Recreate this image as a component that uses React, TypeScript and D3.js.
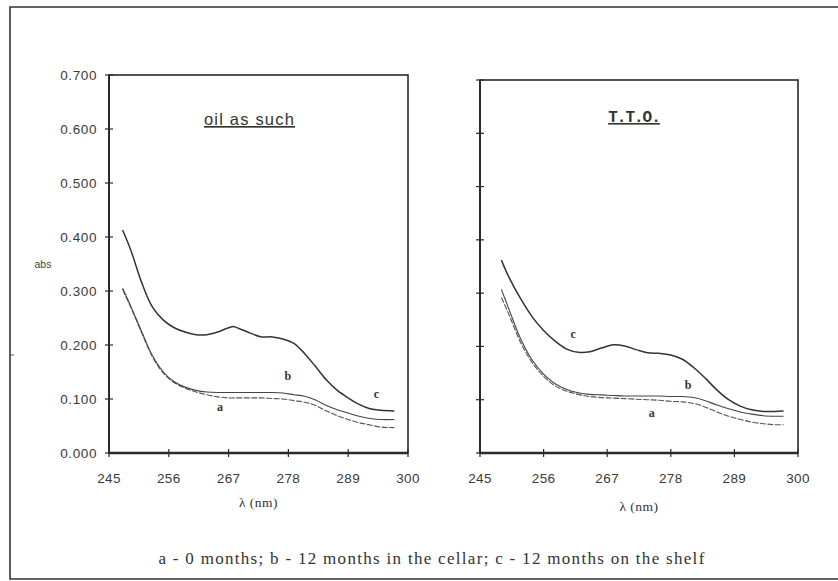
import React from "react";
import * as d3 from "d3";

// ---------- data ----------
const xTicks = [245, 256, 267, 278, 289, 300];
const yTicks = [0, 0.1, 0.2, 0.3, 0.4, 0.5, 0.6, 0.7];
const yTickLabels = ["0.000", "0.100", "0.200", "0.300", "0.400", "0.500", "0.600", "0.700"];

// oil as such
const lambdaOil = [247.5, 249, 251, 253, 255, 257, 259, 261, 263, 265, 267, 268, 269, 271, 273, 275, 277, 279, 281, 283, 285, 287, 289, 291, 293, 295, 297.5];
const oilC = [0.413, 0.376, 0.316, 0.270, 0.246, 0.232, 0.224, 0.219, 0.219, 0.224, 0.232, 0.234, 0.230, 0.222, 0.215, 0.215, 0.211, 0.203, 0.184, 0.160, 0.135, 0.116, 0.102, 0.090, 0.082, 0.079, 0.078];
const oilB = [0.305, 0.272, 0.225, 0.180, 0.150, 0.132, 0.122, 0.116, 0.113, 0.112, 0.112, 0.112, 0.112, 0.112, 0.112, 0.112, 0.111, 0.108, 0.105, 0.098, 0.088, 0.080, 0.074, 0.068, 0.064, 0.062, 0.062];
const oilA = [0.303, 0.270, 0.223, 0.178, 0.148, 0.130, 0.120, 0.113, 0.108, 0.104, 0.102, 0.102, 0.102, 0.102, 0.102, 0.101, 0.100, 0.097, 0.094, 0.088, 0.078, 0.069, 0.062, 0.056, 0.052, 0.048, 0.047];

// T.T.O.
const lambdaTto = [248.7, 250, 252, 254, 256, 258, 260, 262, 264, 266, 268, 270, 272, 274, 276, 278, 280, 282, 284, 286, 288, 290, 292, 294, 296, 297.5];
const ttoC = [0.362, 0.330, 0.290, 0.256, 0.230, 0.210, 0.195, 0.189, 0.190, 0.197, 0.203, 0.201, 0.194, 0.188, 0.187, 0.184, 0.176, 0.160, 0.140, 0.118, 0.100, 0.088, 0.081, 0.078, 0.078, 0.079];
const ttoB = [0.307, 0.270, 0.215, 0.175, 0.148, 0.130, 0.119, 0.113, 0.110, 0.109, 0.108, 0.107, 0.107, 0.107, 0.107, 0.106, 0.106, 0.104, 0.098, 0.090, 0.083, 0.077, 0.073, 0.070, 0.069, 0.069];
const ttoA = [0.292, 0.260, 0.208, 0.170, 0.144, 0.126, 0.116, 0.110, 0.106, 0.104, 0.103, 0.102, 0.101, 0.100, 0.099, 0.097, 0.096, 0.093, 0.086, 0.077, 0.069, 0.063, 0.058, 0.055, 0.053, 0.053];

// curve label annotations [letter, lambda, abs]
const oilLabels: [string, number, number][] = [["b", 277.9, 0.136], ["a", 265.4, 0.078], ["c", 294.2, 0.101]];
const ttoLabels: [string, number, number][] = [["c", 261.1, 0.215], ["b", 281.0, 0.121], ["a", 274.7, 0.068]];

const INK = "#2a2a2a";

type PanelProps = {
  left: number; right: number; top: number; bottom: number;
  title: string; titleFont: string; titleSize: number; titleSpacing: number; titleDy: number; titleDx: number;
  titleWeight: string;
  lambda: number[]; a: number[]; b: number[]; c: number[];
  labels: [string, number, number][];
  showYLabels: boolean; xLabelY: number;
};

function Panel(p: PanelProps) {
  const x = d3.scaleLinear().domain([245, 300]).range([p.left, p.right]);
  const y = d3.scaleLinear().domain([0, 0.7]).range([p.bottom, p.top]);
  const line = (vals: number[]) =>
    d3.line<number>()
      .x((_, i) => x(p.lambda[i]))
      .y((v) => y(v))
      .curve(d3.curveCatmullRom.alpha(0.5))(vals) || "";
  const cx = (p.left + p.right) / 2;
  return (
    <g>
      {/* frame */}
      <rect x={p.left} y={p.top} width={p.right - p.left} height={p.bottom - p.top}
        fill="none" stroke={INK} strokeWidth={1.6} />
      <line x1={p.left} x2={p.right} y1={p.bottom} y2={p.bottom} stroke={INK} strokeWidth={2.4} />
      <line x1={p.left} x2={p.left} y1={p.top} y2={p.bottom} stroke={INK} strokeWidth={2} />
      {/* y ticks */}
      {yTicks.map((t, i) => (
        <g key={"y" + i}>
          <line x1={p.left - 4} x2={p.left + 4} y1={y(t)} y2={y(t)} stroke={INK} strokeWidth={1.2} />
          {p.showYLabels && (
            <text x={p.left - 12} y={y(t) + 4.5} textAnchor="end" fontFamily="Liberation Sans, Arial, sans-serif"
              fontSize={13.5} fill="#3a3a3a" letterSpacing={0.6}>{yTickLabels[i]}</text>
          )}
        </g>
      ))}
      {/* x ticks */}
      {xTicks.map((t) => (
        <g key={"x" + t}>
          <line x1={x(t)} x2={x(t)} y1={p.bottom - 4} y2={p.bottom + 4} stroke={INK} strokeWidth={1.2} />
          <text x={x(t)} y={p.bottom + 30} textAnchor="middle" fontFamily="Liberation Sans, Arial, sans-serif"
            fontSize={13.5} fill="#3a3a3a" letterSpacing={0.4}>{t}</text>
        </g>
      ))}
      <text x={cx} y={p.xLabelY} textAnchor="middle" fontFamily="Liberation Serif, Times New Roman, serif"
        fontSize={13.5} fill="#333" letterSpacing={0.5}>λ (nm)</text>
      {/* title */}
      <text x={cx + p.titleDx} y={p.top + p.titleDy} textAnchor="middle" fontFamily={p.titleFont}
        fontSize={p.titleSize} fontWeight={p.titleWeight} fill="#333" letterSpacing={p.titleSpacing}
        textDecoration="underline">{p.title}</text>
      {/* curves */}
      <path d={line(p.a)} fill="none" stroke="#555" strokeWidth={1.1} strokeDasharray="6 1.5" />
      <path d={line(p.b)} fill="none" stroke="#444" strokeWidth={1.1} />
      <path d={line(p.c)} fill="none" stroke="#333" strokeWidth={1.5} />
      {p.labels.map(([l, lx, ly]) => (
        <text key={l} x={x(lx)} y={y(ly)} textAnchor="middle" fontFamily="Liberation Serif, Times New Roman, serif"
          fontSize={12} fontWeight="bold" fill="#333">{l}</text>
      ))}
    </g>
  );
}

export default function App() {
  return (
    <svg width={838} height={581} style={{ position: "absolute", left: 0, top: 0, background: "#fff" }}>
      <rect x={0} y={0} width={838} height={581} fill="#fff" />
      {/* outer frame */}
      <path d="M838,7 L10,7 L10,579 L838,579" fill="none" stroke="#333" strokeWidth={1.6} />
      <line x1={10} x2={14} y1={355} y2={355} stroke="#555" strokeWidth={1} />
      <Panel left={109} right={408} top={75} bottom={453}
        title="oil as such" titleFont="Liberation Sans, Arial, sans-serif" titleSize={16.5} titleSpacing={1.2}
        titleDy={50} titleDx={-9} titleWeight="normal"
        lambda={lambdaOil} a={oilA} b={oilB} c={oilC} labels={oilLabels} showYLabels={true} xLabelY={507} />
      <Panel left={480} right={798} top={80} bottom={453}
        title="T.T.O." titleFont="Liberation Mono, Courier New, monospace" titleSize={16} titleSpacing={-1}
        titleDy={42} titleDx={-5} titleWeight="bold"
        lambda={lambdaTto} a={ttoA} b={ttoB} c={ttoC} labels={ttoLabels} showYLabels={false} xLabelY={511} />
      <text x={43} y={268} textAnchor="middle" fontFamily="Liberation Sans, Arial, sans-serif" fontSize={10.5} fill="#444">abs</text>
      <text x={432} y={564} textAnchor="middle" fontFamily="Liberation Serif, Times New Roman, serif"
        fontSize={17} fill="#333" letterSpacing={1.3}>a - 0 months; b - 12 months in the cellar; c - 12 months on the shelf</text>
    </svg>
  );
}
